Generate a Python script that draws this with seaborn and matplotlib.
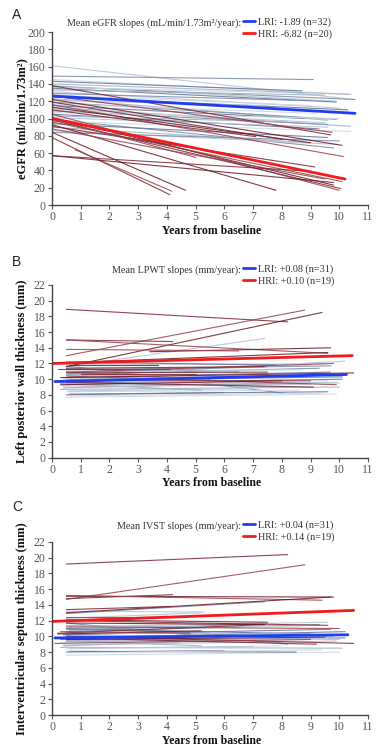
import numpy as np
import pandas as pd
import seaborn as sns
import matplotlib.pyplot as plt
from matplotlib.lines import Line2D

# ---- panel A: eGFR ----
a_lri_x0 = [0, 0, 0, 0, 0, 0, 0, 0, 0, 0, 0, 0, 0, 0, 0, 0,
            0, 0, 0, 0, 0, 0, 0, 0, 0, 0, 0, 0, 0, 0, 0, 0]
a_lri_y0 = [161, 149, 145, 143, 140, 138, 137, 136, 135, 133, 131, 129, 127, 125, 123, 121,
            119, 117, 115, 113, 111, 109, 107, 105, 103, 101, 99, 97, 94, 90, 86, 84]
a_lri_x1 = [10.5, 9.1, 10.3, 8.7, 10.4, 9.9, 10.55, 8.0, 9.9, 9.5, 10.0, 8.5, 9.0, 10.3, 9.6, 7.5,
            9.9, 9.2, 8.8, 10.4, 9.55, 9.6, 10.0, 9.3, 8.2, 9.6, 9.8, 10.4, 9.6, 9.0, 9.9, 10.0]
a_lri_y1 = [122, 145, 128, 132, 128, 120, 122, 130, 119, 127, 112, 121, 115, 110, 98, 115,
            99, 106, 100, 91, 95, 93, 100, 88, 96, 90, 66, 85, 78, 72, 70, 74]

a_hri_x0 = [0, 0, 0, 0, 0, 0, 0, 0, 0, 0, 0, 0, 0, 0, 0, 0, 0.8, 0, 0, 0]
a_hri_y0 = [138, 126, 122, 119, 116, 113, 110, 105, 101, 98, 96, 93, 91, 88, 84, 78, 64, 57, 57, 100]
a_hri_x1 = [9.7, 9.75, 10.1, 8.0, 10.15, 9.0, 7.1, 10.0, 9.8, 10.05, 10.1, 7.8, 9.15, 9.5, 4.65, 4.1,
            4.17, 9.8, 9.0, 5.0]
a_hri_y1 = [81, 84, 69, 76, 56, 72, 79, 17, 23, 19, 27, 17, 44, 30, 17, 12, 16, 26, 39, 55]

a_mean_x = [[0, 10.55], [0, 10.2]]
a_mean_y = [[126, 106], [100, 30]]

# ---- panel B: LPWT ----
b_lri_x0 = [0.5, 0.5, 0.5, 0.6, 0.3, 0.4, 0.5, 0.5, 0.3, 0.5, 0.6, 0.5, 0.5, 0.5, 0.4, 0.6,
            0.5, 0.5, 0.4, 0.5, 0.5, 0.6, 0.3, 0.5, 0.5, 0.4, 0.5, 0.6, 0.5, 0.5, 0.5]
b_lri_y0 = [11.6, 11.7, 7.7, 8.1, 8.7, 9.0, 9.3, 8.4, 9.5, 10.0, 10.4, 11.2, 11.9, 9.8, 8.9, 8.5,
            10.6, 11.0, 10.2, 9.6, 12.0, 10.8, 9.2, 8.0, 11.4, 9.9, 10.9, 7.9, 12.2, 9.4, 10.5]
b_lri_x1 = [7.4, 8.1, 9.9, 9.6, 10.0, 9.9, 9.0, 8.6, 10.1, 9.8, 10.2, 9.7, 9.5, 10.1, 4.5, 7.0,
            9.3, 8.7, 9.7, 8.2, 9.0, 7.5, 9.6, 6.0, 6.5, 10.0, 5.5, 9.4, 7.8, 5.2, 9.1]
b_lri_y1 = [15.2, 8.2, 8.1, 8.4, 9.0, 9.6, 9.4, 8.6, 10.0, 10.6, 12.3, 11.7, 12.0, 10.3, 9.2, 8.8,
            11.4, 11.2, 10.9, 9.0, 11.8, 11.6, 9.8, 8.3, 11.0, 9.5, 10.0, 8.2, 11.8, 8.6, 10.4]

b_hri_x0 = [0.5, 0.5, 0.5, 0.5, 0.5, 3.4, 0.2, 0.5, 0.3, 0.5, 0.5, 0.6, 0.5, 0.6, 0.5, 1.0,
            0.5, 0.3, 0.5]
b_hri_y0 = [18.9, 13.0, 11.6, 15.0, 15.0, 13.5, 11.3, 10.9, 10.2, 10.8, 10.4, 11.8, 9.6, 9.9, 12.1, 10.6,
            13.8, 9.3, 11.4]
b_hri_x1 = [8.2, 8.8, 9.4, 4.2, 9.6, 9.7, 4.1, 9.8, 10.5, 7.5, 9.9, 3.7, 9.1, 9.0, 9.6, 5.0,
            6.5, 8.0, 7.4]
b_hri_y1 = [17.3, 18.8, 18.5, 14.8, 13.3, 14.0, 11.3, 12.0, 10.8, 10.9, 9.3, 11.8, 9.0, 9.8, 13.4, 10.6,
            13.6, 9.8, 11.6]

b_mean_x = [[0.1, 10.25], [0, 10.45]]
b_mean_y = [[9.7, 10.6], [12.0, 13.0]]

# ---- panel C: IVST ----
c_lri_x0 = [0.5, 0.5, 0.5, 0.6, 0.3, 0.4, 0.5, 0.5, 0.3, 0.5, 0.6, 0.5, 0.5, 0.5, 0.4, 0.6,
            0.5, 0.5, 0.4, 0.5, 0.5, 0.6, 0.3, 0.5, 0.5, 0.4, 0.5, 0.6, 0.5, 0.5, 0.5]
c_lri_y0 = [13.2, 12.9, 7.6, 8.1, 8.6, 8.9, 9.3, 8.4, 9.6, 10.1, 11.2, 11.7, 12.0, 9.8, 8.8, 8.5,
            10.6, 11.0, 10.2, 9.5, 12.3, 10.8, 9.2, 8.0, 11.4, 9.9, 10.9, 7.9, 11.0, 9.4, 10.4]
c_lri_x1 = [5.3, 7.4, 10.0, 8.5, 10.1, 9.9, 9.0, 8.0, 10.2, 9.8, 9.6, 8.2, 4.0, 10.2, 4.5, 7.0,
            9.3, 8.7, 9.7, 8.0, 5.2, 7.5, 9.6, 6.0, 6.5, 10.0, 5.5, 9.4, 9.0, 5.2, 9.1]
c_lri_y1 = [13.1, 14.4, 8.0, 8.0, 8.5, 9.4, 9.7, 8.8, 9.8, 10.0, 11.8, 9.0, 12.6, 10.6, 9.3, 8.7,
            11.5, 11.3, 10.9, 9.2, 13.0, 11.6, 9.7, 8.2, 11.1, 9.6, 10.4, 8.3, 10.3, 8.8, 10.3]

c_hri_x0 = [0.5, 0.5, 0.5, 0.5, 0.5, 0.5, 0.5, 0.5, 0.5, 0.2, 0.5, 0.2, 0.5, 0.1, 0.5, 0.5,
            0.3, 0.5, 0.5]
c_hri_y0 = [19.2, 14.7, 15.1, 14.8, 15.2, 13.0, 13.4, 12.5, 12.1, 10.4, 11.2, 10.3, 10.0, 9.1, 9.6, 12.0,
            10.6, 11.7, 9.8]
c_hri_x1 = [8.2, 8.8, 9.8, 4.2, 9.4, 9.7, 4.1, 4.7, 7.5, 7.4, 10.0, 5.2, 10.5, 9.0, 9.5, 9.6,
            4.8, 7.4, 9.2]
c_hri_y1 = [20.4, 19.1, 15.0, 15.3, 14.6, 15.0, 13.8, 12.5, 11.8, 11.5, 11.0, 10.7, 9.1, 9.6, 9.9, 11.4,
            10.4, 11.5, 9.0]

c_mean_x = [[0.1, 10.3], [0, 10.5]]
c_mean_y = [[9.8, 10.2], [11.9, 13.3]]

groups = ['LRI', 'HRI']
panels = [
    dict(letter='A', lri=(a_lri_x0, a_lri_y0, a_lri_x1, a_lri_y1),
         hri=(a_hri_x0, a_hri_y0, a_hri_x1, a_hri_y1),
         mx=a_mean_x, my=a_mean_y, ymax=200, ystep=20,
         ylabel='eGFR (ml/min/1.73m²)',
         prefix='Mean eGFR slopes (mL/min/1.73m²/year):',
         labels=['LRI: -1.89 (n=32)', 'HRI: -6.82 (n=20)']),
    dict(letter='B', lri=(b_lri_x0, b_lri_y0, b_lri_x1, b_lri_y1),
         hri=(b_hri_x0, b_hri_y0, b_hri_x1, b_hri_y1),
         mx=b_mean_x, my=b_mean_y, ymax=22, ystep=2,
         ylabel='Left posterior wall thickness (mm)',
         prefix='Mean LPWT slopes (mm/year):',
         labels=['LRI: +0.08 (n=31)', 'HRI: +0.10 (n=19)']),
    dict(letter='C', lri=(c_lri_x0, c_lri_y0, c_lri_x1, c_lri_y1),
         hri=(c_hri_x0, c_hri_y0, c_hri_x1, c_hri_y1),
         mx=c_mean_x, my=c_mean_y, ymax=22, ystep=2,
         ylabel='Interventricular septum thickness (mm)',
         prefix='Mean IVST slopes (mm/year):',
         labels=['LRI: +0.04 (n=31)', 'HRI: +0.14 (n=19)']),
]

blue_shades = ['#b7c4d5', '#7f90aa', '#cfd8e3', '#66799a', '#a3b2c7']
red_shades = ['#7d2533', '#93404c', '#6a1826']
mean_colors = {'LRI': '#1f3cf5', 'HRI': '#f51a1a'}

sns.set_style('ticks')
plt.rcParams['font.family'] = ['Liberation Serif', 'DejaVu Serif']


def to_long(seg, prefix):
    x0, y0, x1, y1 = seg
    rows = []
    for i in range(len(x0)):
        rows.append((f'{prefix}{i}', x0[i], y0[i]))
        rows.append((f'{prefix}{i}', x1[i], y1[i]))
    return pd.DataFrame(rows, columns=['id', 'year', 'value'])


fig = plt.figure(figsize=(3.92, 7.55), dpi=100)
W, H = 392, 755
ax_px = [(32, 205), (285, 457.7), (542, 715)]   # top, bottom in pixels
legend_row = [23, 270, 526]
xlabel_y = [231, 483, 741]
letter_y = [15, 262, 507]

for k, p in enumerate(panels):
    top, bot = ax_px[k]
    ax = fig.add_axes([52 / W, 1 - bot / H, 316 / W, (bot - top) / H])

    lri = to_long(p['lri'], 'L')
    hri = to_long(p['hri'], 'H')
    lri_ids = lri['id'].unique()
    hri_ids = hri['id'].unique()
    pal_l = {u: blue_shades[i % len(blue_shades)] for i, u in enumerate(lri_ids)}
    pal_h = {u: red_shades[i % len(red_shades)] for i, u in enumerate(hri_ids)}

    sns.lineplot(data=lri, x='year', y='value', hue='id', palette=pal_l, units='id',
                 estimator=None, sort=False, legend=False, linewidth=0.8, alpha=0.9, ax=ax)
    sns.lineplot(data=hri, x='year', y='value', hue='id', palette=pal_h, units='id',
                 estimator=None, sort=False, legend=False, linewidth=0.8, alpha=0.85, ax=ax)

    mean_df = pd.DataFrame({
        'group': [g for g in groups for _ in range(2)],
        'year': p['mx'][0] + p['mx'][1],
        'value': p['my'][0] + p['my'][1],
    })
    sns.lineplot(data=mean_df, x='year', y='value', hue='group', palette=mean_colors,
                 estimator=None, units='group', sort=False, legend=False, linewidth=2.0, ax=ax)

    ax.set_xlim(0, 11)
    ax.set_ylim(0, p['ymax'])
    ax.set_xticks(range(0, 12))
    ax.set_yticks(np.arange(0, p['ymax'] + 1, p['ystep']))
    ax.set_xlabel('')
    ax.set_ylabel('')
    ax.tick_params(labelsize=8.5, length=3, width=0.8, colors='#555555', pad=1.5)
    for side in ['left', 'bottom']:
        ax.spines[side].set_color('#444444')
        ax.spines[side].set_linewidth(1.0)
    sns.despine(ax=ax)

    fig.text(22 / W, 1 - (top + bot) / 2 / H, p['ylabel'], rotation=90, ha='center',
             va='center', fontsize=9, fontweight='bold', color='#111111')
    fig.text(212 / W, 1 - xlabel_y[k] / H, 'Years from baseline', ha='center', va='center',
             fontsize=8.5, fontweight='bold', color='#111111')
    fig.text(12 / W, 1 - letter_y[k] / H, p['letter'], ha='left', va='center', fontsize=10,
             family='Liberation Sans', color='#222222')

    fig.text(241 / W, 1 - legend_row[k] / H, p['prefix'], ha='right', va='center',
             fontsize=7.3, color='#333333')
    handles = [Line2D([], [], color=mean_colors[g], linewidth=2.0) for g in groups]
    fig.legend(handles, p['labels'], loc='upper left',
               bbox_to_anchor=(243 / W, 1 - (legend_row[k] - 6) / H), frameon=False,
               fontsize=7.3, handlelength=1.2, handletextpad=0.25, labelspacing=0.25,
               borderpad=0, borderaxespad=0, labelcolor='#333333')

fig.savefig('out.png', dpi=100)
